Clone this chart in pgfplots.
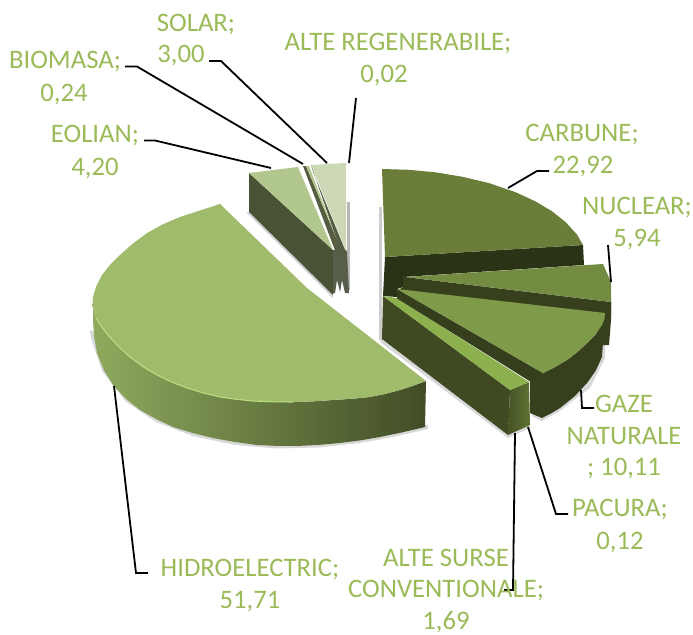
\documentclass[border=0pt]{standalone}
\usepackage{fontspec}
\setmainfont{Carlito}
\usepackage{pgfplots}
\usepackage{pgfplotstable}
\pgfplotsset{compat=1.18}
\definecolor{lab}{HTML}{9BBB59}
\pgfplotstableread{
x y
93 300
92.6 306
95 315
100.3 324.8
108 335
118.1 346.1
130 357
143 366.6
157 375
171.6 382
187 388
203.3 393
220 397
236.5 399.3
253 401
273 401.8
293 402
313 401.4
333 400
351.8 398.8
370 397
385.2 393.9
400 390
413 385.8
426 381
425 427
402.5 432.3
380 437
360 440.4
340 443
318.5 444.9
297 446
277 445.9
257 445
235 442
213 438
192.7 433
173 427
156 419
140 410
125.6 398.5
113 385
103.6 369.5
97 353
94 336
93 320
}\hydroside
\pgfplotstableread{
x y
220 204
200 210.5
180 217
162.7 224.4
147 233
132.6 243.8
120 255
109.9 265
102 275
96.3 286.1
93 297
92.6 306.1
95 315
100.3 324.8
108 335
118.1 346.1
130 357
143 366.6
157 375
171.6 382
187 388
203.3 393
220 397
236.5 399.3
253 401
273 401.8
293 402
313 401.4
333 400
351.8 398.8
370 397
385.2 393.9
400 390
413 385.8
426 381
307 288
}\hydrotop
\pgfplotstableread{
x y
96 318
100.3 324.8
108 335
118.1 346.1
130 357
143 366.6
157 375
171.6 382
187 388
203.3 393
220 397
236.5 399.3
253 401
273 401.8
293 402
}\hydrorim
\pgfplotstableread{
x y
428 425
428 429
402 435
380 439.5
360 443
318.5 447.5
277 448.5
235 445
192.7 436
156 422
125.6 401.5
102 371
91 338
90 330
300 420
}\hydroshadow
\pgfplotstableread{
x y
249 173
298 167
333 250
}\eoliantop
\pgfplotstableread{
x y
249 173
249 212
333 295
333 250
}\eolianside
\pgfplotstableread{
x y
246 212
249 212
333 295
333 298
}\eolianshadow
\pgfplotstableread{
x y
333 250
333 293
335 293
337 280
340 292
342 280
345 293
349 293
347 252
346 250
}\smallsides
\pgfplotstableread{
x y
303 166
306 166
340 247
342 255
336 253
}\biostrip
\pgfplotstableread{
x y
306 166
309 166
341 250
340 247
}\biosliver
\pgfplotstableread{
x y
311 165
313 172
346 252
346 258
342 255
}\solarstrip
\pgfplotstableread{
x y
311 165
346 163
346 250
}\solartop
\pgfplotstableread{
x y
347 202
350 202
350 290
347 290
}\solarshadow
\pgfplotstableread{
x y
379 207
382 207
382 340
379 340
}\rightshadow
\pgfplotstableread{
x y
382 339
508 435
529 425
530 428
508 438
380 342
}\slabshadow
\pgfplotstableread{
x y
605 335
605 358
598 372
590 388
575 399
560 411
551 416
542 421
532 416
532 410
}\gazeshadow
\pgfplotstableread{
x y
382 169
408.7 169.8
435.3 172.3
462 176.7
488.7 183
515.3 192.1
535.3 201.3
552 211.3
565.3 221.8
577 234.5
583 245
385 257
}\carbtop
\pgfplotstableread{
x y
385 257
583 245
584 265
403 277
403 287
397 289
397 297
383 296
}\carbside
\pgfplotstableread{
x y
405 277
603 264
611 282
611 302
}\nuctop
\pgfplotstableread{
x y
403 277
405 277
611 302
611 316
605 316
397 291
403 287
}\nucinner
\pgfplotstableread{
x y
611 302
611 320
609 345
600 345
595 320
}\nucouter
\pgfplotstableread{
x y
397 289
605 313
604.5 319
602 325
595.5 334.5
587 343
577.5 352
567 360
555 367
543 373
}\gazetop
\pgfplotstableread{
x y
397 289
397 298
531 382
543 373
}\gazeinner
\pgfplotstableread{
x y
605 313
602 357
595.6 370.9
587 383
574.5 396.4
560 408
551 413.4
542 418
530 413
530 380
543 373
555 367
567 360
577.5 352
587 343
595.5 334.5
602 325
604.5 319
}\gazeouter
\pgfplotstableread{
x y
383 296
510 390
529 382
397 298
}\slabtop
\pgfplotstableread{
x y
383 296
510 390
508 435
382 339
}\slabfront
\pgfplotstableread{
x y
510 390
529 382
530 425
508 435
}\slabend
\pgfplotstableread{
x y
397 298
531 381
}\slabline
\begin{document}
\begin{tikzpicture}
\begin{axis}[
  scale only axis, width=693bp, height=635bp,
  xmin=0, xmax=693, ymin=0, ymax=635, y dir=reverse,
  hide axis, clip=false]
\addplot[draw=none, fill=white] coordinates {(0,0)(693,0)(693,635)(0,635)} -- cycle;
% small slices
\addplot[draw=none, fill=gray, opacity=.35] table[x=x,y=y] {\eolianshadow} -- cycle;
\addplot[draw=none, fill=gray!70, opacity=.8] table[x=x,y=y] {\solarshadow} -- cycle;
\addplot[draw=none, fill={rgb,255:red,74;green,82;blue,53}] table[x=x,y=y] {\eolianside} -- cycle;
\addplot[draw=none, fill={rgb,255:red,86;green,93;blue,74}] table[x=x,y=y] {\smallsides} -- cycle;
\addplot[draw=none, fill={rgb,255:red,178;green,199;blue,141}] table[x=x,y=y] {\eoliantop} -- cycle;
\addplot[draw=none, fill={rgb,255:red,86;green,93;blue,66}] table[x=x,y=y] {\biostrip} -- cycle;
\addplot[draw=none, fill={rgb,255:red,178;green,199;blue,141}] table[x=x,y=y] {\biosliver} -- cycle;
\addplot[draw=none, fill={rgb,255:red,205;green,216;blue,183}] table[x=x,y=y] {\solartop} -- cycle;
\addplot[draw=none, fill={rgb,255:red,86;green,93;blue,66}] table[x=x,y=y] {\solarstrip} -- cycle;
% hydro
\addplot[draw=none, fill=gray, opacity=.3] table[x=x,y=y] {\hydroshadow} -- cycle;
\addplot[draw=none, left color={rgb,255:red,143;green,170;blue,94}, middle color={rgb,255:red,101;green,117;blue,62}, right color={rgb,255:red,65;green,76;blue,37}] table[x=x,y=y] {\hydroside} -- cycle;
\addplot[draw=none, fill={rgb,255:red,160;green,187;blue,107}] table[x=x,y=y] {\hydrotop} -- cycle;
\addplot[line width=1.1bp, color={rgb,255:red,186;green,221;blue,128}, no marks] table[x=x,y=y] {\hydrorim};
% right group
\addplot[draw=none, fill=gray, opacity=.4] table[x=x,y=y] {\rightshadow} -- cycle;
\addplot[draw=none, fill=gray, opacity=.3] table[x=x,y=y] {\slabshadow} -- cycle;
\addplot[draw=none, fill=gray, opacity=.3] table[x=x,y=y] {\gazeshadow} -- cycle;
\addplot[draw=none, fill={rgb,255:red,43;green,51;blue,22}] table[x=x,y=y] {\carbside} -- cycle;
\addplot[draw=none, fill={rgb,255:red,107;green,126;blue,57}] table[x=x,y=y] {\carbtop} -- cycle;
\addplot[draw=none, fill={rgb,255:red,55;green,64;blue,29}] table[x=x,y=y] {\nucouter} -- cycle;
\addplot[draw=none, fill={rgb,255:red,55;green,64;blue,29}] table[x=x,y=y] {\nucinner} -- cycle;
\addplot[draw=none, fill={rgb,255:red,116;green,140;blue,66}] table[x=x,y=y] {\nuctop} -- cycle;
\addplot[draw=none, fill={rgb,255:red,55;green,64;blue,29}] table[x=x,y=y] {\gazeouter} -- cycle;
\addplot[draw=none, fill={rgb,255:red,54;green,63;blue,29}] table[x=x,y=y] {\gazeinner} -- cycle;
\addplot[draw=none, fill={rgb,255:red,127;green,154;blue,72}] table[x=x,y=y] {\gazetop} -- cycle;
\addplot[draw=none, fill={rgb,255:red,63;green,74;blue,34}] table[x=x,y=y] {\slabfront} -- cycle;
\addplot[draw=none, left color={rgb,255:red,70;green,84;blue,38}, right color={rgb,255:red,95;green,114;blue,50}] table[x=x,y=y] {\slabend} -- cycle;
\addplot[draw=none, fill={rgb,255:red,141;green,176;blue,79}] table[x=x,y=y] {\slabtop} -- cycle;
\addplot[line width=.8bp, color={rgb,255:red,55;green,64;blue,29}, no marks] table[x=x,y=y] {\slabline};
% leaders
\addplot[black, line width=1.8bp, no marks] coordinates {(125,66.5)(137,66.5)(303,164)};
\addplot[black, line width=1.8bp, no marks] coordinates {(209,61)(221,61)(327,163)};
\addplot[black, line width=1.8bp, no marks] coordinates {(356,98)(349,163)};
\addplot[black, line width=1.8bp, no marks] coordinates {(144,140.5)(155,140.5)(271,168)};
\addplot[black, line width=1.8bp, no marks] coordinates {(508,188)(537,171)(549,171)};
\addplot[black, line width=1.8bp, no marks] coordinates {(608,245)(611,282)};
\addplot[black, line width=1.8bp, no marks] coordinates {(581,390)(582,408)(594,408)};
\addplot[black, line width=1.8bp, no marks] coordinates {(528,427)(556,514)(568,514)};
\addplot[black, line width=1.8bp, no marks] coordinates {(515,433)(513,590)(504,590)};
\addplot[black, line width=1.8bp, no marks] coordinates {(114,386)(136,573)(148,573)};
% labels
\tikzset{L/.style={text=lab, font=\fontsize{26.7bp}{30bp}\selectfont, inner sep=0pt, anchor=center, yshift=-1.5bp}}
\node[L] at (axis cs:196,23) {SOLAR;};
\node[L] at (axis cs:181,54) {3,00};
\node[L] at (axis cs:398,42) {ALTE REGENERABILE;};
\node[L] at (axis cs:384,74) {0,02};
\node[L] at (axis cs:65,60) {BIOMASA;};
\node[L] at (axis cs:64,93) {0,24};
\node[L] at (axis cs:95,134) {EOLIAN;};
\node[L] at (axis cs:95,167) {4,20};
\node[L] at (axis cs:582,133) {CARBUNE;};
\node[L] at (axis cs:583,165) {22,92};
\node[L] at (axis cs:637,206) {NUCLEAR;};
\node[L] at (axis cs:637,238) {5,94};
\node[L] at (axis cs:624,402) {GAZE};
\node[L] at (axis cs:624,435) {NATURALE};
\node[L] at (axis cs:624,467) {; 10,11};
\node[L] at (axis cs:620,508) {PACURA;};
\node[L] at (axis cs:620,541) {0,12};
\node[L] at (axis cs:250,568) {HIDROELECTRIC;};
\node[L] at (axis cs:250,600) {51,71};
\node[L] at (axis cs:446,556) {ALTE SURSE};
\node[L] at (axis cs:446,589) {CONVENTIONALE;};
\node[L] at (axis cs:446,621) {1,69};
\end{axis}
\end{tikzpicture}
\end{document}
